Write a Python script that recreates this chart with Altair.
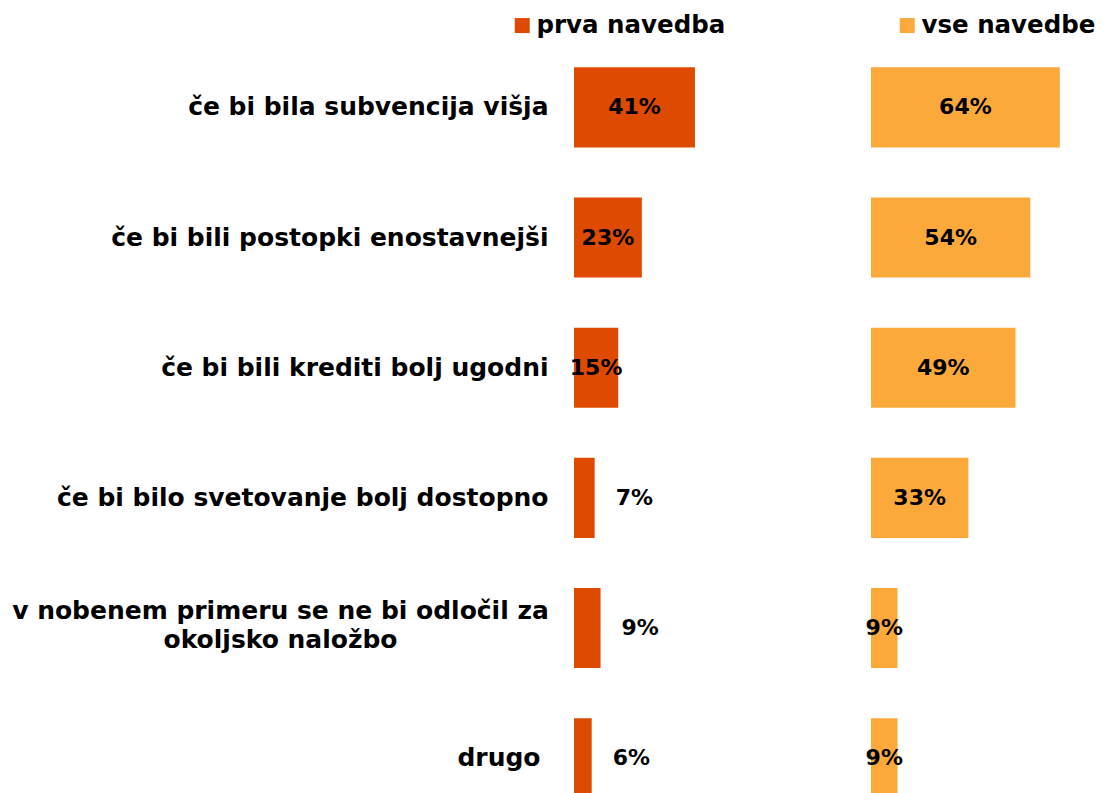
import altair as alt
import pandas as pd

categories = [
    "če bi bila subvencija višja",
    "če bi bili postopki enostavnejši",
    "če bi bili krediti bolj ugodni",
    "če bi bilo svetovanje bolj dostopno",
    "v nobenem primeru se ne bi odločil za\nokoljsko naložbo",
    "drugo",
]
first_mention = [41, 23, 15, 7, 9, 6]
all_mentions = [64, 54, 49, 33, 9, 9]
series = ["prva navedba", "vse navedbe"]
colors = ["#DD4A00", "#FBA93A"]

df = pd.DataFrame({"cat": categories, "first": first_mention, "all": all_mentions})

FONT = "DejaVu Sans"
PXPCT = 2.95
yscale = alt.Scale(paddingInner=0.3846, paddingOuter=0.1885)
MULTI = "indexof(datum.label, '\\n') >= 0"


def legend(x, y):
    return alt.Legend(
        title=None, orient="none", legendX=x, legendY=y, symbolType="square",
        symbolSize=225, symbolStrokeWidth=0, labelFont=FONT, labelFontWeight="bold",
        labelFontSize=24.5, labelColor="black", labelOffset=2, padding=0,
        labelLimit=400,
    )


def panel(field, name, color, width, show_axis, lx, ly):
    if show_axis:
        yaxis = alt.Axis(
            title=None, labelExpr="split(datum.label, '\\n')", labelFont=FONT,
            labelFontWeight="bold", labelFontSize=25, labelColor="black",
            labelLimit=700, ticks=False, domain=False,
            labelLineHeight=29, labelBaseline="middle",
            labelAlign={"condition": {"test": MULTI, "value": "center"}, "value": "right"},
            labelPadding={"condition": [
                {"test": MULTI, "value": 294},
                {"test": "datum.label == 'drugo'", "value": 34}], "value": 26},
            labelOffset={"condition": {"test": MULTI, "value": -17}, "value": 0},
        )
    else:
        yaxis = None
    base = alt.Chart(df).transform_calculate(
        s=f"'{name}'", lbl=f"datum['{field}'] + '%'", mid=f"datum['{field}'] / 2"
    ).encode(y=alt.Y("cat:N", sort=categories, scale=yscale, axis=yaxis))
    xs = alt.Scale(domain=[0, width / PXPCT], nice=False, zero=True)
    bars = base.mark_bar().encode(
        x=alt.X(f"{field}:Q", scale=xs, axis=None),
        color=alt.Color("s:N", scale=alt.Scale(domain=[name], range=[color]),
                        legend=legend(lx, ly)),
    )
    txt = dict(font=FONT, fontWeight="bold", fontSize=22, color="black")
    if field == "first":
        big = base.transform_filter(f"datum['{field}'] >= 15").mark_text(**txt).encode(
            x=alt.X("mid:Q", scale=xs, axis=None), text="lbl:N")
        small = base.transform_filter(f"datum['{field}'] < 15").mark_text(
            align="left", dx=21, **txt).encode(
            x=alt.X(f"{field}:Q", scale=xs, axis=None), text="lbl:N")
        layers = [bars, big, small]
    else:
        lab = base.mark_text(**txt).encode(
            x=alt.X("mid:Q", scale=xs, axis=None), text="lbl:N")
        layers = [bars, lab]
    return alt.layer(*layers).properties(width=width, height=780)


left = panel("first", series[0], colors[0], 289, True, -64, -29.5)
right = panel("all", series[1], colors[1], 220, False, 24, -29.5)

chart = (
    alt.hconcat(left, right, spacing=2)
    .resolve_scale(color="independent")
    .resolve_legend(color="independent")
    .properties(padding={"left": 3, "top": 4.8, "right": 0, "bottom": 0})
    .configure_view(stroke=None)
)

chart.save("out.html", embed_options={"renderer": "svg", "actions": False})
